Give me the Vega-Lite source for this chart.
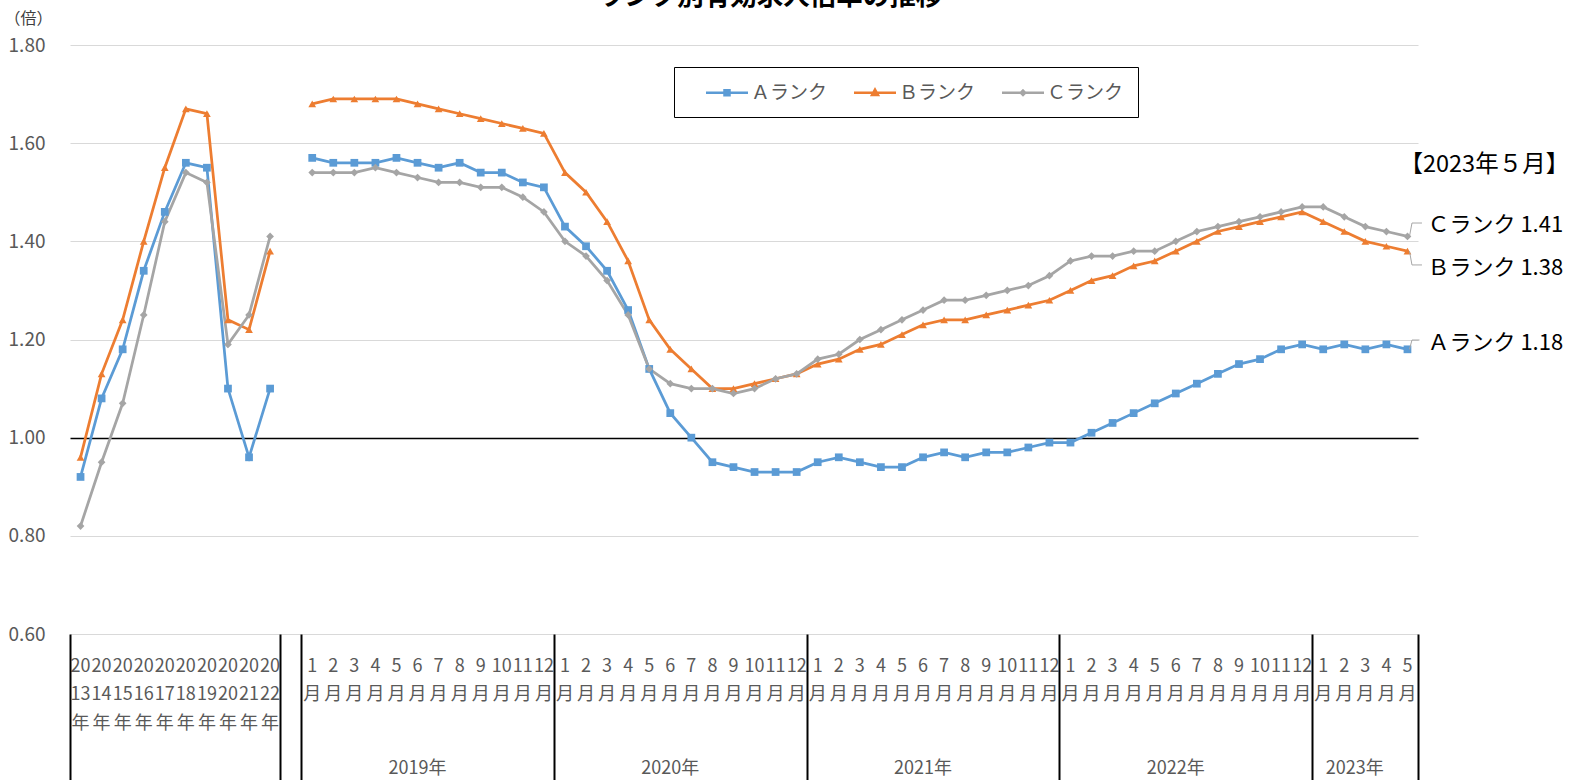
{
  "$schema": "https://vega.github.io/schema/vega-lite/v6.json",
  "width": 1348,
  "height": 589,
  "autosize": "none",
  "padding": {"left": 70, "top": 45, "right": 155, "bottom": 146},
  "config": {"view": {"stroke": null}, "font": "Noto Sans CJK JP"},
  "title": {"text": "ランク別有効求人倍率の推移", "fontSize": 26.5, "fontWeight": "bold", "color": "#000000", "anchor": "middle", "dx": 26, "offset": 0, "font": "Noto Sans CJK JP"},
  "data": {"values": [
    {"p": "2013年", "s": "年", "Ａランク": 0.92, "Ｂランク": 0.96, "Ｃランク": 0.82},
    {"p": "2014年", "s": "年", "Ａランク": 1.08, "Ｂランク": 1.13, "Ｃランク": 0.95},
    {"p": "2015年", "s": "年", "Ａランク": 1.18, "Ｂランク": 1.24, "Ｃランク": 1.07},
    {"p": "2016年", "s": "年", "Ａランク": 1.34, "Ｂランク": 1.40, "Ｃランク": 1.25},
    {"p": "2017年", "s": "年", "Ａランク": 1.46, "Ｂランク": 1.55, "Ｃランク": 1.44},
    {"p": "2018年", "s": "年", "Ａランク": 1.56, "Ｂランク": 1.67, "Ｃランク": 1.54},
    {"p": "2019年", "s": "年", "Ａランク": 1.55, "Ｂランク": 1.66, "Ｃランク": 1.52},
    {"p": "2020年", "s": "年", "Ａランク": 1.10, "Ｂランク": 1.24, "Ｃランク": 1.19},
    {"p": "2021年", "s": "年", "Ａランク": 0.96, "Ｂランク": 1.22, "Ｃランク": 1.25},
    {"p": "2022年", "s": "年", "Ａランク": 1.10, "Ｂランク": 1.38, "Ｃランク": 1.41},
    {"p": "2019年1月", "s": "月", "Ａランク": 1.57, "Ｂランク": 1.68, "Ｃランク": 1.54},
    {"p": "2019年2月", "s": "月", "Ａランク": 1.56, "Ｂランク": 1.69, "Ｃランク": 1.54},
    {"p": "2019年3月", "s": "月", "Ａランク": 1.56, "Ｂランク": 1.69, "Ｃランク": 1.54},
    {"p": "2019年4月", "s": "月", "Ａランク": 1.56, "Ｂランク": 1.69, "Ｃランク": 1.55},
    {"p": "2019年5月", "s": "月", "Ａランク": 1.57, "Ｂランク": 1.69, "Ｃランク": 1.54},
    {"p": "2019年6月", "s": "月", "Ａランク": 1.56, "Ｂランク": 1.68, "Ｃランク": 1.53},
    {"p": "2019年7月", "s": "月", "Ａランク": 1.55, "Ｂランク": 1.67, "Ｃランク": 1.52},
    {"p": "2019年8月", "s": "月", "Ａランク": 1.56, "Ｂランク": 1.66, "Ｃランク": 1.52},
    {"p": "2019年9月", "s": "月", "Ａランク": 1.54, "Ｂランク": 1.65, "Ｃランク": 1.51},
    {"p": "2019年10月", "s": "月", "Ａランク": 1.54, "Ｂランク": 1.64, "Ｃランク": 1.51},
    {"p": "2019年11月", "s": "月", "Ａランク": 1.52, "Ｂランク": 1.63, "Ｃランク": 1.49},
    {"p": "2019年12月", "s": "月", "Ａランク": 1.51, "Ｂランク": 1.62, "Ｃランク": 1.46},
    {"p": "2020年1月", "s": "月", "Ａランク": 1.43, "Ｂランク": 1.54, "Ｃランク": 1.40},
    {"p": "2020年2月", "s": "月", "Ａランク": 1.39, "Ｂランク": 1.50, "Ｃランク": 1.37},
    {"p": "2020年3月", "s": "月", "Ａランク": 1.34, "Ｂランク": 1.44, "Ｃランク": 1.32},
    {"p": "2020年4月", "s": "月", "Ａランク": 1.26, "Ｂランク": 1.36, "Ｃランク": 1.25},
    {"p": "2020年5月", "s": "月", "Ａランク": 1.14, "Ｂランク": 1.24, "Ｃランク": 1.14},
    {"p": "2020年6月", "s": "月", "Ａランク": 1.05, "Ｂランク": 1.18, "Ｃランク": 1.11},
    {"p": "2020年7月", "s": "月", "Ａランク": 1.00, "Ｂランク": 1.14, "Ｃランク": 1.10},
    {"p": "2020年8月", "s": "月", "Ａランク": 0.95, "Ｂランク": 1.10, "Ｃランク": 1.10},
    {"p": "2020年9月", "s": "月", "Ａランク": 0.94, "Ｂランク": 1.10, "Ｃランク": 1.09},
    {"p": "2020年10月", "s": "月", "Ａランク": 0.93, "Ｂランク": 1.11, "Ｃランク": 1.10},
    {"p": "2020年11月", "s": "月", "Ａランク": 0.93, "Ｂランク": 1.12, "Ｃランク": 1.12},
    {"p": "2020年12月", "s": "月", "Ａランク": 0.93, "Ｂランク": 1.13, "Ｃランク": 1.13},
    {"p": "2021年1月", "s": "月", "Ａランク": 0.95, "Ｂランク": 1.15, "Ｃランク": 1.16},
    {"p": "2021年2月", "s": "月", "Ａランク": 0.96, "Ｂランク": 1.16, "Ｃランク": 1.17},
    {"p": "2021年3月", "s": "月", "Ａランク": 0.95, "Ｂランク": 1.18, "Ｃランク": 1.20},
    {"p": "2021年4月", "s": "月", "Ａランク": 0.94, "Ｂランク": 1.19, "Ｃランク": 1.22},
    {"p": "2021年5月", "s": "月", "Ａランク": 0.94, "Ｂランク": 1.21, "Ｃランク": 1.24},
    {"p": "2021年6月", "s": "月", "Ａランク": 0.96, "Ｂランク": 1.23, "Ｃランク": 1.26},
    {"p": "2021年7月", "s": "月", "Ａランク": 0.97, "Ｂランク": 1.24, "Ｃランク": 1.28},
    {"p": "2021年8月", "s": "月", "Ａランク": 0.96, "Ｂランク": 1.24, "Ｃランク": 1.28},
    {"p": "2021年9月", "s": "月", "Ａランク": 0.97, "Ｂランク": 1.25, "Ｃランク": 1.29},
    {"p": "2021年10月", "s": "月", "Ａランク": 0.97, "Ｂランク": 1.26, "Ｃランク": 1.30},
    {"p": "2021年11月", "s": "月", "Ａランク": 0.98, "Ｂランク": 1.27, "Ｃランク": 1.31},
    {"p": "2021年12月", "s": "月", "Ａランク": 0.99, "Ｂランク": 1.28, "Ｃランク": 1.33},
    {"p": "2022年1月", "s": "月", "Ａランク": 0.99, "Ｂランク": 1.30, "Ｃランク": 1.36},
    {"p": "2022年2月", "s": "月", "Ａランク": 1.01, "Ｂランク": 1.32, "Ｃランク": 1.37},
    {"p": "2022年3月", "s": "月", "Ａランク": 1.03, "Ｂランク": 1.33, "Ｃランク": 1.37},
    {"p": "2022年4月", "s": "月", "Ａランク": 1.05, "Ｂランク": 1.35, "Ｃランク": 1.38},
    {"p": "2022年5月", "s": "月", "Ａランク": 1.07, "Ｂランク": 1.36, "Ｃランク": 1.38},
    {"p": "2022年6月", "s": "月", "Ａランク": 1.09, "Ｂランク": 1.38, "Ｃランク": 1.40},
    {"p": "2022年7月", "s": "月", "Ａランク": 1.11, "Ｂランク": 1.40, "Ｃランク": 1.42},
    {"p": "2022年8月", "s": "月", "Ａランク": 1.13, "Ｂランク": 1.42, "Ｃランク": 1.43},
    {"p": "2022年9月", "s": "月", "Ａランク": 1.15, "Ｂランク": 1.43, "Ｃランク": 1.44},
    {"p": "2022年10月", "s": "月", "Ａランク": 1.16, "Ｂランク": 1.44, "Ｃランク": 1.45},
    {"p": "2022年11月", "s": "月", "Ａランク": 1.18, "Ｂランク": 1.45, "Ｃランク": 1.46},
    {"p": "2022年12月", "s": "月", "Ａランク": 1.19, "Ｂランク": 1.46, "Ｃランク": 1.47},
    {"p": "2023年1月", "s": "月", "Ａランク": 1.18, "Ｂランク": 1.44, "Ｃランク": 1.47},
    {"p": "2023年2月", "s": "月", "Ａランク": 1.19, "Ｂランク": 1.42, "Ｃランク": 1.45},
    {"p": "2023年3月", "s": "月", "Ａランク": 1.18, "Ｂランク": 1.40, "Ｃランク": 1.43},
    {"p": "2023年4月", "s": "月", "Ａランク": 1.19, "Ｂランク": 1.39, "Ｃランク": 1.42},
    {"p": "2023年5月", "s": "月", "Ａランク": 1.18, "Ｂランク": 1.38, "Ｃランク": 1.41}
  ]},
  "transform": [{"fold": ["Ａランク", "Ｂランク", "Ｃランク"], "as": ["rank", "v"]}],
  "encoding": {
    "x": {"field": "p", "type": "ordinal", "axis": null, "scale": {"type": "band", "paddingInner": 0, "paddingOuter": 0, "domain": ["2013年","2014年","2015年","2016年","2017年","2018年","2019年","2020年","2021年","2022年"," ","2019年1月","2019年2月","2019年3月","2019年4月","2019年5月","2019年6月","2019年7月","2019年8月","2019年9月","2019年10月","2019年11月","2019年12月","2020年1月","2020年2月","2020年3月","2020年4月","2020年5月","2020年6月","2020年7月","2020年8月","2020年9月","2020年10月","2020年11月","2020年12月","2021年1月","2021年2月","2021年3月","2021年4月","2021年5月","2021年6月","2021年7月","2021年8月","2021年9月","2021年10月","2021年11月","2021年12月","2022年1月","2022年2月","2022年3月","2022年4月","2022年5月","2022年6月","2022年7月","2022年8月","2022年9月","2022年10月","2022年11月","2022年12月","2023年1月","2023年2月","2023年3月","2023年4月","2023年5月"]}},
    "y": {"field": "v", "type": "quantitative", "scale": {"domain": [0.6, 1.8], "nice": false, "zero": false}, "axis": {"values": [0.6, 0.8, 1, 1.2, 1.4, 1.6, 1.8], "format": ".2f", "title": "（倍）", "titleAngle": 0, "titleX": -42, "titleY": -27, "titleAlign": "center", "titleBaseline": "middle", "titleFontSize": 16, "titleFontWeight": "normal", "titleColor": "#404040", "titleFont": "Noto Sans CJK JP", "domain": false, "ticks": false, "tickSize": 0, "labelPadding": 25, "labelFontSize": 19, "labelColor": "#595959", "labelFont": "Noto Sans CJK JP", "grid": true, "gridColor": {"condition": {"test": "datum.value === 1", "value": "#000000"}, "value": "#d9d9d9"}, "gridWidth": {"condition": {"test": "datum.value === 1", "value": 1.5}, "value": 1}}}
  },
  "layer": [
    {
      "mark": {"type": "line", "strokeWidth": 2.75},
      "encoding": {
        "x": {"field": "p", "type": "ordinal", "scale": {"type": "band", "paddingInner": 0, "paddingOuter": 0, "domain": ["2013年","2014年","2015年","2016年","2017年","2018年","2019年","2020年","2021年","2022年"," ","2019年1月","2019年2月","2019年3月","2019年4月","2019年5月","2019年6月","2019年7月","2019年8月","2019年9月","2019年10月","2019年11月","2019年12月","2020年1月","2020年2月","2020年3月","2020年4月","2020年5月","2020年6月","2020年7月","2020年8月","2020年9月","2020年10月","2020年11月","2020年12月","2021年1月","2021年2月","2021年3月","2021年4月","2021年5月","2021年6月","2021年7月","2021年8月","2021年9月","2021年10月","2021年11月","2021年12月","2022年1月","2022年2月","2022年3月","2022年4月","2022年5月","2022年6月","2022年7月","2022年8月","2022年9月","2022年10月","2022年11月","2022年12月","2023年1月","2023年2月","2023年3月","2023年4月","2023年5月"]},
          "axis": {"orient": "bottom", "title": null, "domain": false, "ticks": false, "tickSize": 0, "grid": false, "labelPadding": 23, "labelAngle": 0, "labelOverlap": false, "labelBound": false, "labelLimit": 0, "labelFontSize": 18, "labelColor": "#595959", "labelFont": "Noto Sans CJK JP", "labelLineHeight": 28.5, "labelBaseline": "top",
            "labelExpr": "length(datum.label) < 2 ? '' : (length(datum.label) > 5 ? [slice(datum.label, 5, -1), '月'] : [slice(datum.label, 0, 2), slice(datum.label, 2, 4), '年'])"}},
        "color": {"field": "rank", "type": "nominal", "scale": {"domain": ["Ａランク", "Ｂランク", "Ｃランク"], "range": ["#5B9BD5", "#ED7D31", "#A5A5A5"]}, "legend": null},
        "detail": {"field": "s", "type": "nominal"}
      }
    },
    {
      "mark": {"type": "point", "filled": true, "opacity": 1, "size": 60},
      "encoding": {
        "x": {"field": "p", "type": "ordinal", "scale": {"type": "band", "paddingInner": 0, "paddingOuter": 0, "domain": ["2013年","2014年","2015年","2016年","2017年","2018年","2019年","2020年","2021年","2022年"," ","2019年1月","2019年2月","2019年3月","2019年4月","2019年5月","2019年6月","2019年7月","2019年8月","2019年9月","2019年10月","2019年11月","2019年12月","2020年1月","2020年2月","2020年3月","2020年4月","2020年5月","2020年6月","2020年7月","2020年8月","2020年9月","2020年10月","2020年11月","2020年12月","2021年1月","2021年2月","2021年3月","2021年4月","2021年5月","2021年6月","2021年7月","2021年8月","2021年9月","2021年10月","2021年11月","2021年12月","2022年1月","2022年2月","2022年3月","2022年4月","2022年5月","2022年6月","2022年7月","2022年8月","2022年9月","2022年10月","2022年11月","2022年12月","2023年1月","2023年2月","2023年3月","2023年4月","2023年5月"]},
          "axis": {"orient": "bottom", "title": null, "domain": false, "labels": false, "grid": false, "ticks": true, "tickSize": 146, "tickColor": "#000000", "tickWidth": 2, "bandPosition": 0, "values": ["2013年", " ", "2019年1月", "2020年1月", "2021年1月", "2022年1月", "2023年1月"]}},
        "color": {"field": "rank", "type": "nominal", "scale": {"domain": ["Ａランク", "Ｂランク", "Ｃランク"], "range": ["#5B9BD5", "#ED7D31", "#A5A5A5"]}, "legend": null},
        "shape": {"field": "rank", "type": "nominal", "scale": {"domain": ["Ａランク", "Ｂランク", "Ｃランク"], "range": ["square", "triangle-up", "diamond"]}, "legend": null}
      }
    },
    {
      "transform": [{"filter": "false"}],
      "mark": {"type": "point", "filled": true, "opacity": 1, "size": 400, "strokeWidth": 2.5},
      "encoding": {
        "color": {"field": "rank", "type": "nominal", "scale": {"domain": ["Ａランク", "Ｂランク", "Ｃランク"], "range": ["#5B9BD5", "#ED7D31", "#A5A5A5"]},
          "legend": {"title": null, "orient": "none", "legendX": 604, "legendY": 22, "direction": "horizontal", "columns": 3, "padding": 14, "strokeColor": "#000000", "fillColor": "#ffffff", "symbolSize": 400, "symbolStrokeWidth": 2.5, "symbolOffset": 27.5, "symbolOpacity": 1, "labelFontSize": 19, "labelColor": "#595959", "labelFont": "Noto Sans CJK JP", "labelOffset": 12.5, "columnPadding": 8, "labelBaseline": "middle"}},
        "stroke": {"field": "rank", "type": "nominal", "scale": {"domain": ["Ａランク", "Ｂランク", "Ｃランク"], "range": ["#5B9BD5", "#ED7D31", "#A5A5A5"]},
          "legend": {"title": null, "orient": "none", "legendX": 604, "legendY": 22, "direction": "horizontal", "columns": 3, "padding": 14, "strokeColor": "#000000", "fillColor": "#ffffff", "symbolSize": 400, "symbolStrokeWidth": 2.5, "symbolOffset": 27.5, "symbolOpacity": 1, "labelFontSize": 19, "labelColor": "#595959", "labelFont": "Noto Sans CJK JP", "labelOffset": 12.5, "columnPadding": 8, "labelBaseline": "middle"}},
        "shape": {"field": "rank", "type": "nominal", "scale": {"domain": ["Ａランク", "Ｂランク", "Ｃランク"], "range": ["M-2.1,0H2.1M-0.25,-0.25H0.25V0.25H-0.25Z", "M-2.1,0H2.1M0,-0.32L0.3,0.22H-0.3Z", "M-2.1,0H2.1M0,-0.22L0.22,0L0,0.22L-0.22,0Z"]},
          "legend": {"title": null, "orient": "none", "legendX": 604, "legendY": 22, "direction": "horizontal", "columns": 3, "padding": 14, "strokeColor": "#000000", "fillColor": "#ffffff", "symbolSize": 400, "symbolStrokeWidth": 2.5, "symbolOffset": 27.5, "symbolOpacity": 1, "labelFontSize": 19, "labelColor": "#595959", "labelFont": "Noto Sans CJK JP", "labelOffset": 12.5, "columnPadding": 8, "labelBaseline": "middle"}}
      }
    },
    {
      "transform": [{"filter": "datum.p === '2023年5月' && datum.rank === 'Ｃランク'"}, {"calculate": "datum.rank + ' ' + format(datum.v, '.2f')", "as": "lbl"}],
      "mark": {"type": "text", "align": "left", "baseline": "middle", "dx": 20, "dy": -11.4, "fontSize": 22, "color": "#000000", "font": "Noto Sans CJK JP"},
      "encoding": {
        "x": {"field": "p", "type": "ordinal", "scale": {"type": "band", "paddingInner": 0, "paddingOuter": 0, "domain": ["2013年","2014年","2015年","2016年","2017年","2018年","2019年","2020年","2021年","2022年"," ","2019年1月","2019年2月","2019年3月","2019年4月","2019年5月","2019年6月","2019年7月","2019年8月","2019年9月","2019年10月","2019年11月","2019年12月","2020年1月","2020年2月","2020年3月","2020年4月","2020年5月","2020年6月","2020年7月","2020年8月","2020年9月","2020年10月","2020年11月","2020年12月","2021年1月","2021年2月","2021年3月","2021年4月","2021年5月","2021年6月","2021年7月","2021年8月","2021年9月","2021年10月","2021年11月","2021年12月","2022年1月","2022年2月","2022年3月","2022年4月","2022年5月","2022年6月","2022年7月","2022年8月","2022年9月","2022年10月","2022年11月","2022年12月","2023年1月","2023年2月","2023年3月","2023年4月","2023年5月"]},
          "axis": {"orient": "bottom", "title": null, "domain": false, "labels": false, "grid": false, "ticks": true, "tickSize": 146, "tickColor": "#000000", "tickWidth": 2, "bandPosition": 1, "values": ["2023年5月"]}},
        "text": {"field": "lbl"}
      }
    },
    {
      "transform": [{"filter": "datum.p === '2023年5月' && datum.rank === 'Ｂランク'"}, {"calculate": "datum.rank + ' ' + format(datum.v, '.2f')", "as": "lbl"}],
      "mark": {"type": "text", "align": "left", "baseline": "middle", "dx": 20, "dy": 17, "fontSize": 22, "color": "#000000", "font": "Noto Sans CJK JP"},
      "encoding": {
        "x": {"field": "p", "type": "ordinal", "scale": {"type": "band", "paddingInner": 0, "paddingOuter": 0, "domain": ["2013年","2014年","2015年","2016年","2017年","2018年","2019年","2020年","2021年","2022年"," ","2019年1月","2019年2月","2019年3月","2019年4月","2019年5月","2019年6月","2019年7月","2019年8月","2019年9月","2019年10月","2019年11月","2019年12月","2020年1月","2020年2月","2020年3月","2020年4月","2020年5月","2020年6月","2020年7月","2020年8月","2020年9月","2020年10月","2020年11月","2020年12月","2021年1月","2021年2月","2021年3月","2021年4月","2021年5月","2021年6月","2021年7月","2021年8月","2021年9月","2021年10月","2021年11月","2021年12月","2022年1月","2022年2月","2022年3月","2022年4月","2022年5月","2022年6月","2022年7月","2022年8月","2022年9月","2022年10月","2022年11月","2022年12月","2023年1月","2023年2月","2023年3月","2023年4月","2023年5月"]},
          "axis": {"orient": "bottom", "title": null, "domain": false, "ticks": false, "tickSize": 0, "grid": false, "labelPadding": 125, "labelBaseline": "top", "labelAngle": 0, "labelFontSize": 18, "labelColor": "#595959", "labelFont": "Noto Sans CJK JP", "labelOverlap": false, "labelBound": false, "labelLimit": 0, "bandPosition": 1,
            "values": ["2019年6月", "2020年6月", "2021年6月", "2022年6月", "2023年3月"],
            "labelExpr": "slice(datum.label, 0, 5)",
            "labelOffset": {"condition": {"test": "datum.value === '2023年3月'", "value": -10.5}, "value": 0}}},
        "text": {"field": "lbl"}
      }
    },
    {
      "transform": [{"filter": "datum.p === '2023年5月' && datum.rank === 'Ａランク'"}, {"calculate": "datum.rank + ' ' + format(datum.v, '.2f')", "as": "lbl"}],
      "mark": {"type": "text", "align": "left", "baseline": "middle", "dx": 20, "dy": -6, "fontSize": 22, "color": "#000000", "font": "Noto Sans CJK JP"},
      "encoding": {"text": {"field": "lbl"}}
    },
    {
      "transform": [{"filter": "datum.p === '2023年5月' && datum.rank === 'Ｃランク'"}],
      "mark": {"type": "text", "align": "left", "baseline": "middle", "dx": -8, "dy": -71.4, "fontSize": 23.5, "color": "#000000", "font": "Noto Sans CJK JP", "text": "【2023年５月】"},
      "encoding": {}
    },
    {
      "transform": [{"filter": "datum.p === '2023年5月' && datum.rank === 'Ｃランク'"}],
      "mark": {"type": "point", "filled": false, "size": 400, "stroke": "#A6A6A6", "strokeWidth": 1, "opacity": 1, "shape": "M0.2,0L0.45,-1.34L1.45,-1.34"},
      "encoding": {}
    },
    {
      "transform": [{"filter": "datum.p === '2023年5月' && datum.rank === 'Ｂランク'"}],
      "mark": {"type": "point", "filled": false, "size": 400, "stroke": "#A6A6A6", "strokeWidth": 1, "opacity": 1, "shape": "M0.2,0L0.45,1.38L1.45,1.38"},
      "encoding": {}
    },
    {
      "transform": [{"filter": "datum.p === '2023年5月' && datum.rank === 'Ａランク'"}],
      "mark": {"type": "point", "filled": false, "size": 400, "stroke": "#A6A6A6", "strokeWidth": 1, "opacity": 1, "shape": "M0.2,0L0.45,-0.93L1.2,-0.93"},
      "encoding": {}
    }
  ],
  "resolve": {
    "axis": {"x": "independent"},
    "scale": {"color": "independent", "shape": "independent", "stroke": "independent"},
    "legend": {"color": "independent", "shape": "independent", "stroke": "independent"}
  }
}
